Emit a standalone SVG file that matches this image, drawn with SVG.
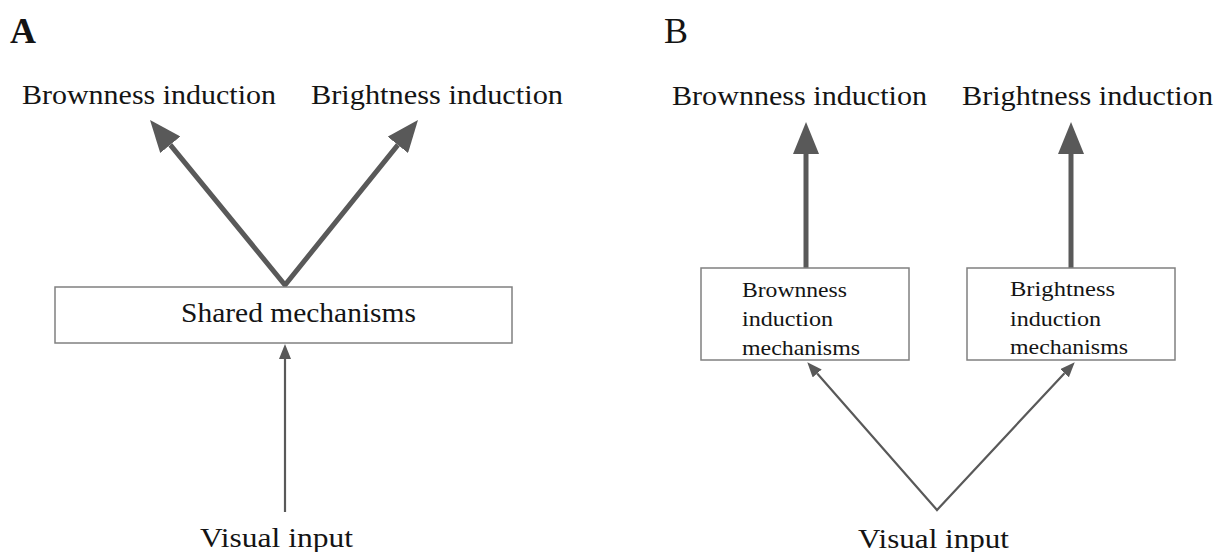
<svg xmlns="http://www.w3.org/2000/svg" width="1219" height="552" viewBox="0 0 1219 552">
<style>
text{font-family:"Liberation Serif","DejaVu Serif",serif;fill:#141414}
.big{font-size:27px}
.sm{font-size:21px}
.box{fill:#fff;stroke:#808080;stroke-width:1.5}
.thick{stroke:#595959;stroke-width:5;fill:none;stroke-linejoin:miter}
.thin{stroke:#595959;stroke-width:2.2;fill:none;stroke-linejoin:miter}
</style>
<defs>
<marker id="hb" viewBox="0 0 32 26" refX="0" refY="13" markerWidth="32" markerHeight="26" markerUnits="userSpaceOnUse" orient="auto-start-reverse"><path d="M0,0 L32,13 L0,26 Z" fill="#595959"/></marker>
<marker id="hs" viewBox="0 0 15 12" refX="0" refY="6" markerWidth="15" markerHeight="12" markerUnits="userSpaceOnUse" orient="auto-start-reverse"><path d="M0,0 L15,6 L0,12 Z" fill="#595959"/></marker>
</defs>
<g id="labels">
<text x="10" y="43" style="font-size:36px;font-weight:bold">A</text>
<text x="664" y="43" style="font-size:36px">B</text>
</g>
<g id="connectors">
<path class="thick" d="M170.3,144.8 L285,285 L397.9,144.9" marker-start="url(#hb)" marker-end="url(#hb)"/>
<line class="thin" x1="285" y1="512" x2="285" y2="359" marker-end="url(#hs)"/>
<line class="thick" x1="806" y1="268" x2="806" y2="154" marker-end="url(#hb)"/>
<line class="thick" x1="1071" y1="268" x2="1071" y2="154" marker-end="url(#hb)"/>
<path class="thin" d="M817.2,373.5 L937,510 L1064.5,373.2" marker-start="url(#hs)" marker-end="url(#hs)"/>
</g>
<g id="a-brownness"><text class="big" x="22" y="104" textLength="254" lengthAdjust="spacingAndGlyphs">Brownness induction</text></g>
<g id="a-brightness"><text class="big" x="311" y="104" textLength="252" lengthAdjust="spacingAndGlyphs">Brightness induction</text></g>
<g id="a-shared">
<rect class="box" x="55" y="287" width="457" height="56"/>
<text class="big" x="181" y="322" textLength="235" lengthAdjust="spacingAndGlyphs">Shared mechanisms</text>
</g>
<g id="a-visual"><text class="big" x="200" y="547" textLength="153" lengthAdjust="spacingAndGlyphs">Visual input</text></g>
<g id="b-brownness"><text class="big" x="672" y="105" textLength="255" lengthAdjust="spacingAndGlyphs">Brownness induction</text></g>
<g id="b-brightness"><text class="big" x="962" y="105" textLength="251" lengthAdjust="spacingAndGlyphs">Brightness induction</text></g>
<g id="b-brown-mech">
<rect class="box" x="701" y="268" width="208" height="92"/>
<text class="sm" x="742" y="297" textLength="105" lengthAdjust="spacingAndGlyphs">Brownness</text>
<text class="sm" x="742" y="326" textLength="91" lengthAdjust="spacingAndGlyphs">induction</text>
<text class="sm" x="742" y="355" textLength="118" lengthAdjust="spacingAndGlyphs">mechanisms</text>
</g>
<g id="b-bright-mech">
<rect class="box" x="967" y="268" width="208" height="92"/>
<text class="sm" x="1010" y="296" textLength="105" lengthAdjust="spacingAndGlyphs">Brightness</text>
<text class="sm" x="1010" y="326" textLength="91" lengthAdjust="spacingAndGlyphs">induction</text>
<text class="sm" x="1010" y="354" textLength="118" lengthAdjust="spacingAndGlyphs">mechanisms</text>
</g>
<g id="b-visual"><text class="big" x="858" y="548" textLength="151" lengthAdjust="spacingAndGlyphs">Visual input</text></g>
</svg>
